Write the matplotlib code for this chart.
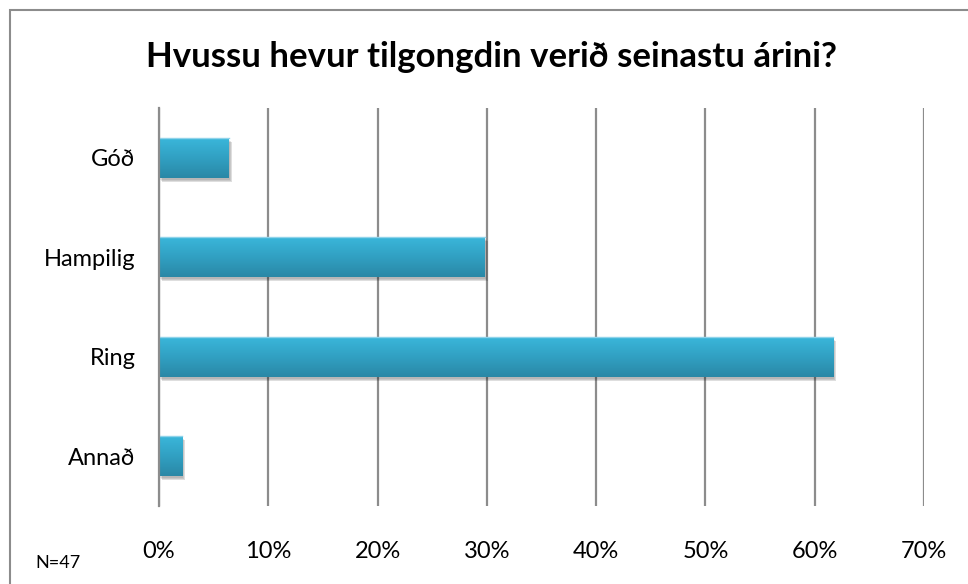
import matplotlib.pyplot as plt
import matplotlib.transforms as mtransforms
from matplotlib.patches import Rectangle
from matplotlib.colors import LinearSegmentedColormap
import numpy as np

plt.rcParams['font.family'] = ['Lato', 'DejaVu Sans']

categories = ['Góð', 'Hampilig', 'Ring', 'Annað']
values = [6.38, 29.79, 61.70, 2.13]   # percent, N=47
xticks = [0, 10, 20, 30, 40, 50, 60, 70]
title = 'Hvussu hevur tilgongdin verið seinastu árini?'
note = 'N=47'

fig = plt.figure(figsize=(9.68, 5.84), dpi=100)
ax = fig.add_axes([159 / 968, 1 - 506 / 584, 765 / 968, 398 / 584])

ypos = np.arange(len(categories))[::-1]
grid_col = '#8c8c8c'

# soft shadow behind bars
for k, a in enumerate([0.08, 0.10, 0.13]):
    sh = mtransforms.offset_copy(ax.transData, fig=fig, x=1 + k, y=-2 - k, units='dots')
    ax.barh(ypos, values, height=0.4, color='black', alpha=a, transform=sh, zorder=2, linewidth=0)

bars = ax.barh(ypos, values, height=0.4, color='#33a6c8', zorder=3, linewidth=0)

cmap = LinearSegmentedColormap.from_list('bar', ['#2a88a6', '#31a0c2', '#3ab6da'])
grad = np.linspace(0, 1, 100).reshape(-1, 1)
for b in bars:
    x0, y0 = b.get_x(), b.get_y()
    w, h = b.get_width(), b.get_height()
    im = ax.imshow(grad, cmap=cmap, aspect='auto', origin='lower',
                   extent=[x0, x0 + w, y0, y0 + h], zorder=4)
    im.set_clip_path(b)
    ax.plot([x0, x0 + w], [y0 + h, y0 + h], color='#8fd3ea', lw=1, zorder=5)

ax.set_xlim(0, 70)
ax.set_ylim(-0.5, len(categories) - 0.5)
ax.set_xticks(xticks)
ax.set_xticklabels([f'{t}%' for t in xticks], fontsize=17)
ax.set_yticks(ypos)
ax.set_yticklabels(categories, fontsize=17)
ax.tick_params(axis='x', length=0, pad=25)
ax.tick_params(axis='y', length=0, pad=17)

ax.grid(axis='x', color=grid_col, lw=1.6, zorder=1)
ax.set_axisbelow(True)
for s in ['top', 'right', 'bottom']:
    ax.spines[s].set_visible(False)
ax.spines['left'].set_color(grid_col)
ax.spines['left'].set_linewidth(1.6)
ax.spines['left'].set_zorder(6)

# chart border
fig.patches.append(Rectangle((10 / 968, -0.05), 1.1, 1 - 10 / 584 + 0.05,
                             transform=fig.transFigure, fill=False,
                             edgecolor='#8c8c8c', lw=1.5))

fig.text(0.508, 1 - 57 / 584, title, fontsize=25, fontweight='bold',
         ha='center', va='center')
fig.text(35 / 968, 1 - 563 / 584, note, fontsize=13, ha='left', va='center')

fig.savefig('out.png', dpi=100)
